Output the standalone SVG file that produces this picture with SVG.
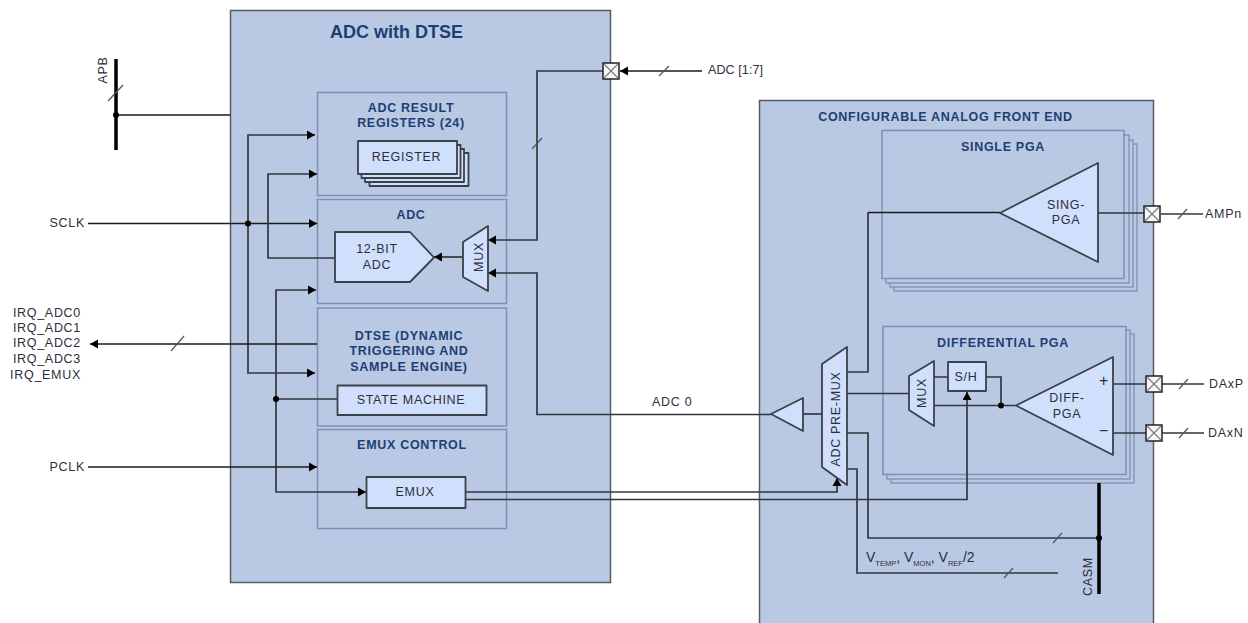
<svg xmlns="http://www.w3.org/2000/svg" width="1248" height="623" viewBox="0 0 1248 623">
<style>
text{font-family:"Liberation Sans",Arial,sans-serif;font-size:12.5px;fill:#2b2f3a;letter-spacing:.7px}
.t{font-weight:bold;fill:#1c3f73;text-anchor:middle}
.m{text-anchor:middle}
.e{text-anchor:end}
.main{fill:#b9c9e3;stroke:#555b66;stroke-width:1.5}
.sub{fill:#b9c9e3;stroke:#7e90b3;stroke-width:1.5}
.back{fill:#b9c9e3;stroke:#7e90b3;stroke-width:1.3}
.n{fill:#d0dffc;stroke:#3c4048;stroke-width:1.8;stroke-linejoin:round}
.c{fill:none;stroke:#33363c;stroke-width:1.7}
.thin{fill:none;stroke:#1b1b1b;stroke-width:1.3}
.bus{fill:none;stroke:#000;stroke-width:3.5}
.sl{stroke:#555;stroke-width:1.2;fill:none}
.pin{fill:#f4f6fa;stroke:#222;stroke-width:1.5}
.x{stroke:#777;stroke-width:1.1;fill:none}
.a{marker-end:url(#arrow)}
</style>
<defs>
<marker id="arrow" markerUnits="userSpaceOnUse" markerWidth="10" markerHeight="10" refX="8" refY="5" orient="auto"><path d="M0 .5L8 5L0 9.500Z" fill="#000"/></marker>
<g id="pinbox"><rect class="pin" x="0" y="0" width="16" height="16"/><path class="x" d="M1 1L15 15M15 1L1 15"/></g>
</defs>

<g id="adc-dtse">
<rect class="main" x="230.500" y="10.500" width="380" height="572"/>
<text class="t" x="396.500" y="38" style="font-size:18px;letter-spacing:0">ADC with DTSE</text>
</g>
<g id="adc-result">
<rect class="sub" x="317.500" y="92.500" width="189" height="103"/>
<text class="t" x="411" y="112">ADC RESULT</text>
<text class="t" x="411" y="127">REGISTERS (24)</text>
</g>
<g id="adc-block">
<rect class="sub" x="317.500" y="199.500" width="189" height="104"/>
<text class="t" x="411" y="219">ADC</text>
</g>
<g id="dtse">
<rect class="sub" x="317.500" y="308" width="189" height="118"/>
<text class="t" x="409" y="340">DTSE (DYNAMIC</text>
<text class="t" x="409" y="355">TRIGGERING AND</text>
<text class="t" x="409" y="371">SAMPLE ENGINE)</text>
</g>
<g id="emux-control">
<rect class="sub" x="317.500" y="429.500" width="189" height="99"/>
<text class="t" x="412" y="449">EMUX CONTROL</text>
</g>
<g id="afe">
<rect class="main" x="759.500" y="100.500" width="394" height="530"/>
<text class="t" x="945.500" y="121">CONFIGURABLE ANALOG FRONT END</text>
</g>
<g id="single-pga">
<rect class="back" x="894" y="144" width="243" height="147"/>
<rect class="back" x="890" y="140" width="243" height="147"/>
<rect class="back" x="886" y="135" width="243" height="148"/>
<rect class="sub" x="882" y="130.500" width="242" height="148"/>
<text class="t" x="1003" y="151">SINGLE PGA</text>
</g>
<g id="differential-pga">
<rect class="back" x="891" y="334" width="243" height="149"/>
<rect class="back" x="887" y="330" width="243" height="149"/>
<rect class="sub" x="883" y="326.500" width="243" height="148"/>
<text class="t" x="1003" y="347">DIFFERENTIAL PGA</text>
</g>

<g id="connectors">
<path class="bus" d="M116 59V150"/>
<path class="thin" d="M116 115H230"/>
<path class="sl" d="M108 101L123 85"/>
<path class="thin a" d="M88 223.500H317"/>
<path class="c a" d="M248 223V135H315"/>
<path class="c a" d="M248 223V373H315"/>
<path class="c a" d="M335 258H268V174H317"/>
<path class="c a" d="M276 399V290H316"/>
<path class="c a" d="M276 399V492H366"/>
<path class="c" d="M337 399H276"/>
<path class="thin a" d="M317 344H90"/>
<path class="sl" d="M171 351L184 336"/>
<path class="thin a" d="M88 467H317"/>
<path class="c a" d="M463 257H434"/>
<path class="c a" d="M603 71H537V240H488"/>
<path class="c a" d="M771 414.500H537V273H488"/>
<path class="sl" d="M532 149L542 138"/>
<path class="thin a" d="M702 71H620"/>
<path class="sl" d="M659 76L669 66"/>
<path class="c" d="M803 414H822"/>
<path class="c" d="M847 372H868V212.500"/>
<path class="thin" d="M868 212.500H1000"/>
<path class="c" d="M847 393.500H909"/>
<path class="c" d="M847 433H868V538H1099"/>
<path class="c" d="M847 469H857V573H1058"/>
<path class="sl" d="M1053 543L1062 533"/>
<path class="sl" d="M1004 578L1013 568"/>
<path class="c a" d="M466 492H837V478"/>
<path class="c a" d="M466 499.500H967V392"/>
<path class="c" d="M934 377H948M986 377H1001V405M934 405.500H1016"/>
<path class="c" d="M1098 213H1144M1161 214H1203"/>
<path class="sl" d="M1178 219L1187 209"/>
<path class="c" d="M1113 384H1146M1162 384H1204M1113 433H1146M1162 433H1204"/>
<path class="sl" d="M1179 389L1188 379M1179 438L1188 428"/>
<path class="bus" d="M1099 483V594"/>
<circle cx="116" cy="115" r="3"/>
<circle cx="248" cy="223.500" r="3"/>
<circle cx="276" cy="399" r="3"/>
<circle cx="1001" cy="405.500" r="3"/>
<circle cx="1099" cy="538" r="3"/>
</g>

<g id="register">
<rect class="n" x="369.500" y="153" width="99" height="33"/>
<rect class="n" x="365" y="149" width="99" height="33"/>
<rect class="n" x="361.500" y="145" width="99" height="33"/>
<rect class="n" x="358" y="141" width="99" height="33"/>
<text class="m" x="406.500" y="161">REGISTER</text>
</g>
<g id="adc-12bit">
<path class="n" d="M335 232H410L434 257.500L410 282H335Z"/>
<text class="m" x="377" y="253">12-BIT</text>
<text class="m" x="377" y="269">ADC</text>
</g>
<g id="mux-adc">
<path class="n" d="M463 242L488 226V291L463 277Z"/>
<text class="m" transform="translate(483 257) rotate(-90)">MUX</text>
</g>
<g id="state-machine">
<rect class="n" x="337.500" y="385.500" width="149" height="29.500"/>
<text class="m" x="411" y="404">STATE MACHINE</text>
</g>
<g id="emux">
<rect class="n" x="366.500" y="477" width="99" height="31"/>
<text class="m" x="415" y="496">EMUX</text>
</g>
<g id="buffer"><path class="n" d="M771 414L803 398V431Z"/></g>
<g id="pre-mux">
<path class="n" d="M822 364L847 347V485L822 467Z"/>
<text class="m" transform="translate(840 419) rotate(-90)">ADC PRE-MUX</text>
</g>
<g id="mux-diff">
<path class="n" d="M909 376L934 361V426L909 410Z"/>
<text class="m" transform="translate(926 393) rotate(-90)">MUX</text>
</g>
<g id="sh">
<rect class="n" x="948" y="362" width="38" height="29"/>
<text class="m" x="966" y="381">S/H</text>
</g>
<g id="sing-pga">
<path class="n" d="M1000 213L1098 163V262Z"/>
<text class="m" x="1066" y="209">SING-</text>
<text class="m" x="1066" y="224">PGA</text>
</g>
<g id="diff-pga">
<path class="n" d="M1016 405.500L1113 357V455Z"/>
<text class="m" x="1067" y="402">DIFF-</text>
<text class="m" x="1067" y="418">PGA</text>
<text class="m" x="1104" y="386" style="font-size:16px">+</text>
<text class="m" x="1104" y="436" style="font-size:16px">−</text>
</g>
<g id="pin-adc"><use href="#pinbox" x="603" y="63"/></g>
<g id="pin-amp"><use href="#pinbox" x="1144" y="206"/></g>
<g id="pin-daxp"><use href="#pinbox" x="1146" y="376"/></g>
<g id="pin-daxn"><use href="#pinbox" x="1146" y="425"/></g>

<g id="labels">
<text class="m" transform="translate(107 70) rotate(-90)">APB</text>
<text class="e" x="85" y="227">SCLK</text>
<text class="e" x="85" y="471">PCLK</text>
<text class="e" x="81" y="317">IRQ_ADC0</text>
<text class="e" x="81" y="332">IRQ_ADC1</text>
<text class="e" x="81" y="347">IRQ_ADC2</text>
<text class="e" x="81" y="363">IRQ_ADC3</text>
<text class="e" x="81" y="379">IRQ_EMUX</text>
<text x="708" y="74" style="letter-spacing:.1px">ADC [1:7]</text>
<text x="652" y="406">ADC 0</text>
<text x="1205" y="218">AMPn</text>
<text x="1209" y="388">DAxP</text>
<text x="1208" y="437">DAxN</text>
<text transform="translate(1092 596) rotate(-90)">CASM</text>
<text x="866" y="562" style="letter-spacing:0;font-size:14px">V<tspan dy="4" style="font-size:7.500px">TEMP</tspan><tspan dy="-4">, V</tspan><tspan dy="4" style="font-size:7.500px">MON</tspan><tspan dy="-4">, V</tspan><tspan dy="4" style="font-size:7.500px">REF</tspan><tspan dy="-4">/2</tspan></text>
</g>
</svg>
